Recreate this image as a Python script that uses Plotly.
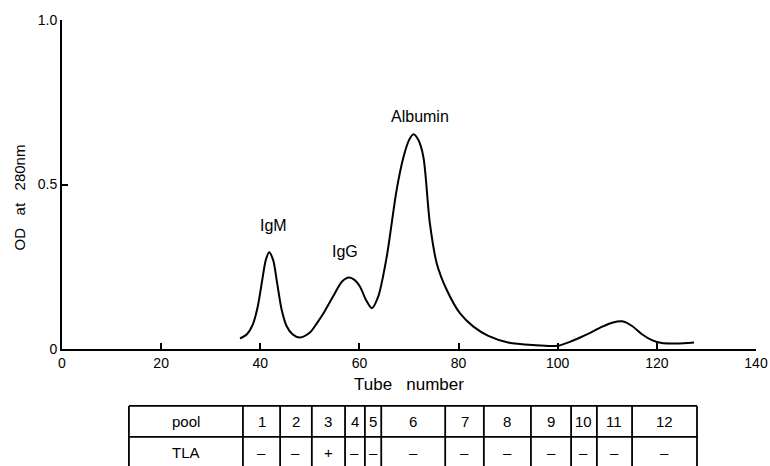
import plotly.graph_objects as go

# Elution profile (tube number, OD at 280 nm)
tube = [35.9, 37.3, 38.5, 39.5, 40.4, 41.1, 41.8, 42.6, 43.4, 44.3, 45.3, 46.5, 48.0, 50.0,
        51.4, 53.0, 54.7, 56.5, 57.9, 59.0, 60.1, 61.3, 62.5, 63.8, 65.5, 67.5, 68.9, 70.0,
        70.9, 71.9, 72.9, 74.2, 75.6, 77.6, 80.3, 83.0, 86.0, 90.0, 95.0, 100.0, 103.0, 106.0,
        109.0, 111.0, 113.0, 115.0, 117.0, 119.0, 121.0, 124.0, 127.5]
od = [0.032, 0.045, 0.075, 0.13, 0.21, 0.27, 0.294, 0.27, 0.2, 0.12, 0.07, 0.045, 0.035, 0.05,
      0.078, 0.115, 0.16, 0.205, 0.217, 0.21, 0.19, 0.15, 0.124, 0.16, 0.28, 0.483, 0.584, 0.635,
      0.653, 0.635, 0.584, 0.383, 0.26, 0.18, 0.108, 0.068, 0.04, 0.02, 0.012, 0.01, 0.025, 0.045,
      0.068, 0.08, 0.084, 0.07, 0.045, 0.027, 0.018, 0.017, 0.02]

peak_labels = ["IgM", "IgG", "Albumin"]
peak_x = [42.6, 57.1, 72.2]
peak_y = [0.374, 0.295, 0.708]

x_ticks = [0, 20, 40, 60, 80, 100, 120, 140]
y_ticks = [0, 0.5, 1.0]
y_ticklabels = ["0", "0.5", "1.0"]

# Pool table: boundaries in tube numbers
table_left = 13.5
pool_edges = [36.5, 44.0, 50.4, 57.1, 61.1, 64.4, 77.3, 85.1, 94.6, 102.7, 107.9, 115.0, 128.1]
pool_names = ["1", "2", "3", "4", "5", "6", "7", "8", "9", "10", "11", "12"]
tla = ["\u2013", "\u2013", "+", "\u2013", "\u2013", "\u2013", "\u2013", "\u2013", "\u2013", "\u2013", "\u2013", "\u2013"]

FONT = "Liberation Sans, Arial, sans-serif"
NB = "\u00a0"

fig = go.Figure()
fig.add_trace(go.Scatter(x=tube, y=od, mode="lines",
                         line=dict(color="black", width=2, shape="spline", smoothing=0.8),
                         hoverinfo="skip", showlegend=False))

for t, xx, yy in zip(peak_labels, peak_x, peak_y):
    fig.add_annotation(x=xx, y=yy, text=t, showarrow=False, xref="x", yref="y",
                       xanchor="center", yanchor="middle",
                       font=dict(family=FONT, size=16, color="black"))

# axis titles as annotations (paper coords)
fig.add_annotation(x=-0.0613, y=0.462, xref="paper", yref="paper", text=f"OD{NB*3}at{NB*3}280nm",
                   textangle=-90, showarrow=False, xanchor="center", yanchor="middle",
                   font=dict(family=FONT, size=15, color="black"))
fig.add_annotation(x=0.5, y=-0.109, xref="paper", yref="paper", text=f"Tube{NB*3}number",
                   showarrow=False, xanchor="center", yanchor="middle",
                   font=dict(family=FONT, size=17, color="black"))

# table geometry in paper coords (plot area: 329 px tall)
y_top = -0.173
y_mid = -0.267
y_bot = -0.40
row1_c = -0.221
row2_c = -0.316
shapes = []
line = dict(color="black", width=1.8)
shapes.append(dict(type="line", xref="x", yref="paper", x0=table_left, x1=pool_edges[-1], y0=y_top, y1=y_top, line=line))
shapes.append(dict(type="line", xref="x", yref="paper", x0=table_left, x1=pool_edges[-1], y0=y_mid, y1=y_mid, line=line))
for e in [table_left] + pool_edges:
    shapes.append(dict(type="line", xref="x", yref="paper", x0=e, x1=e, y0=y_top, y1=y_bot, line=line))
fig.update_layout(shapes=shapes)

tf = dict(family=FONT, size=15, color="black")
fig.add_annotation(x=(table_left + pool_edges[0]) / 2, y=row1_c, text="pool", showarrow=False,
                   xref="x", yref="paper", xanchor="center", yanchor="middle", font=tf)
fig.add_annotation(x=(table_left + pool_edges[0]) / 2, y=row2_c, text="TLA", showarrow=False,
                   xref="x", yref="paper", xanchor="center", yanchor="middle", font=tf)
for i, name in enumerate(pool_names):
    cx = (pool_edges[i] + pool_edges[i + 1]) / 2
    fig.add_annotation(x=cx, y=row1_c, text=name, showarrow=False, xref="x", yref="paper",
                       xanchor="center", yanchor="middle", font=tf)
    fig.add_annotation(x=cx, y=row2_c, text=tla[i], showarrow=False, xref="x", yref="paper",
                       xanchor="center", yanchor="middle", font=tf)

fig.update_layout(
    width=770, height=466,
    margin=dict(l=62, r=14, t=20, b=117),
    paper_bgcolor="white", plot_bgcolor="white",
    font=dict(family=FONT, size=14, color="black"),
    xaxis=dict(range=[0, 140], tickvals=x_ticks, ticks="inside", ticklen=6, tickwidth=1.5, tickcolor="black",
               showline=True, linecolor="black", linewidth=2, showgrid=False, zeroline=False,
               automargin=False, tickfont=dict(size=14)),
    yaxis=dict(range=[0, 1.0], tickvals=y_ticks, ticktext=y_ticklabels, ticks="inside", ticklen=6, tickwidth=1.5,
               tickcolor="black", showline=True, linecolor="black", linewidth=2, showgrid=False, zeroline=False,
               automargin=False, tickfont=dict(size=14)),
)

fig.write_html("out.html")
